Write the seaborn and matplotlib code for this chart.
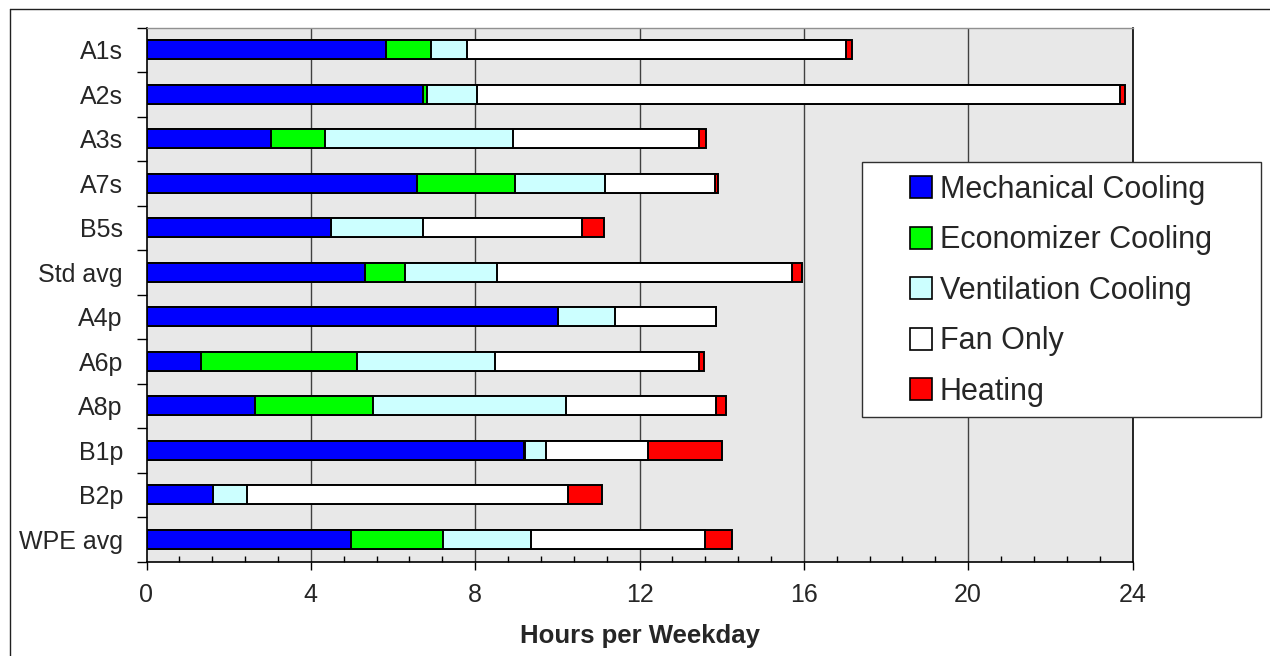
import numpy as np
import pandas as pd
import matplotlib
matplotlib.use("Agg")
import matplotlib.pyplot as plt
import seaborn as sns
from matplotlib.patches import Patch, Rectangle
from matplotlib.lines import Line2D
from matplotlib.ticker import MultipleLocator

# ---- data (hours per weekday, segment lengths) ----
categories = ["A1s", "A2s", "A3s", "A7s", "B5s", "Std avg",
              "A4p", "A6p", "A8p", "B1p", "B2p", "WPE avg"]
mechanical = [5.83, 6.73, 3.03, 6.59, 4.49, 5.32, 10.01, 1.32, 2.65, 9.18, 1.61, 4.98]
economizer = [1.10, 0.10, 1.31, 2.38, 0.00, 0.98, 0.00, 3.81, 2.87, 0.04, 0.00, 2.24]
ventilation = [0.87, 1.22, 4.59, 2.20, 2.24, 2.24, 1.40, 3.36, 4.68, 0.50, 0.83, 2.15]
fan_only = [9.22, 15.65, 4.52, 2.67, 3.86, 7.16, 2.45, 4.96, 3.65, 2.48, 7.81, 4.23]
heating = [0.16, 0.12, 0.16, 0.07, 0.54, 0.26, 0.00, 0.12, 0.25, 1.82, 0.83, 0.66]

series_names = ["Mechanical Cooling", "Economizer Cooling", "Ventilation Cooling",
                "Fan Only", "Heating"]
series_colors = ["#0000FF", "#00FF00", "#CCFFFF", "#FFFFFF", "#FF0000"]
x_ticks = [0, 4, 8, 12, 16, 20, 24]
x_label = "Hours per Weekday"

sns.set_theme(style="white")
plt.rcParams["font.family"] = ["Liberation Sans", "DejaVu Sans"]

W, H = 1270, 656
fig = plt.figure(figsize=(W / 100, H / 100), dpi=100)
x0, x1, y0, y1 = 146.5, 1132.5, 27.5, 561.7
ax = fig.add_axes([x0 / W, 1 - y1 / H, (x1 - x0) / W, (y1 - y0) / H])
ax.set_facecolor("#E8E8E8")
ax.set_axisbelow(True)

segs = np.array([mechanical, economizer, ventilation, fan_only, heating]).T
cum = np.cumsum(segs, axis=1)
df = pd.DataFrame(cum, columns=series_names)
df["cat"] = categories

for i in reversed(range(len(series_names))):
    sns.barplot(data=df, x=series_names[i], y="cat", order=categories, orient="h",
                color=series_colors[i], saturation=1, edgecolor="black",
                linewidth=1.4, width=0.43, errorbar=None, ax=ax, zorder=3)

ax.set_xlim(0, 24)
ax.set_ylim(11.5, -0.5)
ax.set_xticks(x_ticks)
ax.set_xticklabels([str(t) for t in x_ticks])
ax.xaxis.set_minor_locator(MultipleLocator(0.8))
ax.tick_params(axis="x", which="major", direction="out", length=5.5, width=1,
               color="black", labelsize=18, pad=10, bottom=True)
ax.tick_params(axis="x", which="minor", direction="in", length=4, width=1,
               color="black", bottom=True)

ax.set_yticks(np.arange(-0.5, 12, 1))
ax.set_yticklabels([""] * 13)
ax.set_yticks(range(len(categories)), labels=categories, minor=True)
ax.tick_params(axis="y", which="major", direction="out", length=7, width=1,
               color="black", left=True)
ax.tick_params(axis="y", which="minor", length=0, labelsize=18, pad=17)

ax.set_xlabel("")
ax.set_ylabel("")
ax.grid(False)
for v in x_ticks[1:-1]:
    ax.axvline(v, color="#404040", lw=1, zorder=1)

for s in ["left", "bottom", "right"]:
    ax.spines[s].set_color("black")
    ax.spines[s].set_linewidth(1.2)
ax.spines["top"].set_color("#909090")
ax.spines["top"].set_linewidth(1)

fig.text(639.5 / W, 1 - 643 / H, x_label, ha="center", va="baseline",
         fontsize=18.5, fontweight="bold")

# outer chart border
fig.add_artist(Line2D([9.5 / W, 9.5 / W], [0, 1 - 8.5 / H], color="#202020", lw=1,
                      transform=fig.transFigure))
fig.add_artist(Line2D([9.5 / W, 1], [1 - 8.5 / H, 1 - 8.5 / H], color="#202020", lw=1,
                      transform=fig.transFigure))

# legend box
lx0, lx1, ly0, ly1 = 862.3, 1260.7, 162.3, 416.7
box = Rectangle((lx0 / W, 1 - ly1 / H), (lx1 - lx0) / W, (ly1 - ly0) / H,
                transform=fig.transFigure, facecolor="white", edgecolor="#303030",
                lw=1, zorder=5)
fig.add_artist(box)
handles = [Patch(facecolor=c, edgecolor="black", lw=1.2) for c in series_colors]
leg = fig.legend(handles, series_names, loc="upper left",
                 bbox_to_anchor=(910 / W, 1 - 175 / H), frameon=False,
                 fontsize=22, handlelength=0.72, handleheight=0.72,
                 handletextpad=0.25, labelspacing=0.67, borderpad=0, borderaxespad=0)
leg.set_zorder(10)

fig.savefig("out.png", dpi=100)
